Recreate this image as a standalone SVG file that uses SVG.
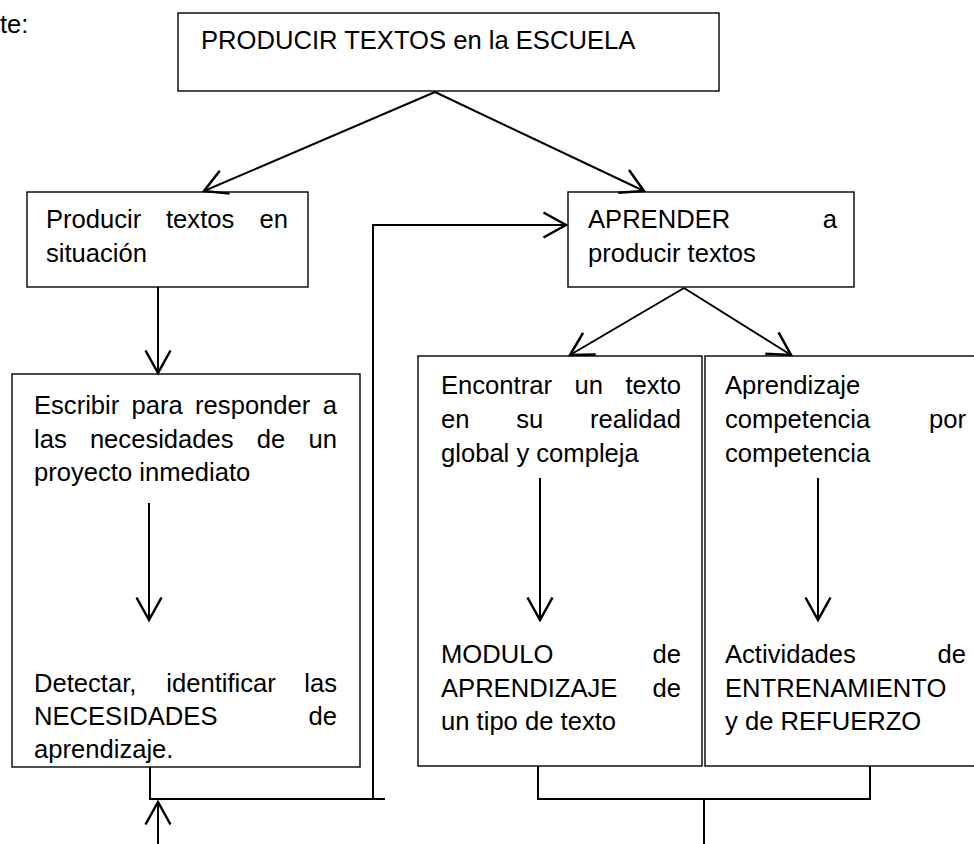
<svg xmlns="http://www.w3.org/2000/svg" width="974" height="844" viewBox="0 0 974 844">
  <defs>
    <marker id="open" markerUnits="userSpaceOnUse" markerWidth="30" markerHeight="30" viewBox="-20 -12 24 24" refX="0" refY="0" orient="auto" overflow="visible">
      <path d="M-18,-10 L0,0 L-18,10" fill="none" stroke="#000" stroke-width="2"/>
    </marker>
  </defs>
  <style>
    text { font-family: "Liberation Sans", Arial, sans-serif; font-size: 25.6px; fill: #000; }
    .e { text-anchor: end; }
    .box { fill: #fff; stroke: #000; stroke-width: 1.4; }
    .ln { fill: none; stroke: #000; stroke-width: 2; }
    .arr { fill: none; stroke: #000; stroke-width: 2; marker-end: url(#open); }
  </style>
  <rect width="974" height="844" fill="#fff"/>

  <text x="0" y="33">te:</text>

  <g id="producir-textos-escuela">
    <rect class="box" x="178" y="13" width="541" height="78"/>
    <text x="201" y="49">PRODUCIR TEXTOS en la ESCUELA</text>
  </g>

  <g id="producir-en-situacion">
    <rect class="box" x="27" y="192" width="281" height="95"/>
    <text x="46" y="228">Producir</text>
    <text x="166" y="228">textos</text>
    <text class="e" x="288" y="228">en</text>
    <text x="46" y="262">situación</text>
  </g>

  <g id="aprender-a-producir">
    <rect class="box" x="568" y="192" width="286" height="95"/>
    <text x="588" y="228">APRENDER</text>
    <text class="e" x="837" y="228">a</text>
    <text x="588" y="262">producir textos</text>
  </g>

  <g id="escribir-proyecto">
    <rect class="box" x="12" y="374" width="348" height="393"/>
    <text x="34" y="414">Escribir</text>
    <text x="131.6" y="414">para</text>
    <text x="195.1" y="414">responder</text>
    <text class="e" x="337" y="414">a</text>
    <text x="34" y="448">las</text>
    <text x="89.9" y="448">necesidades</text>
    <text x="256.8" y="448">de</text>
    <text class="e" x="337" y="448">un</text>
    <text x="34" y="481">proyecto inmediato</text>
    <line class="arr" x1="149" y1="503" x2="149" y2="620"/>
    <text x="34" y="692">Detectar,</text>
    <text x="166.3" y="692">identificar</text>
    <text class="e" x="337" y="692">las</text>
    <text x="34" y="725">NECESIDADES</text>
    <text class="e" x="337" y="725">de</text>
    <text x="34" y="758">aprendizaje.</text>
  </g>

  <g id="encontrar-texto">
    <rect class="box" x="418" y="356" width="284" height="410"/>
    <text x="441" y="394">Encontrar</text>
    <text x="574.5" y="394">un</text>
    <text class="e" x="681" y="394">texto</text>
    <text x="441" y="428">en</text>
    <text x="516.2" y="428">su</text>
    <text class="e" x="681" y="428">realidad</text>
    <text x="441" y="462">global y compleja</text>
    <line class="arr" x1="540" y1="478" x2="540" y2="620"/>
    <text x="441" y="663">MODULO</text>
    <text class="e" x="681" y="663">de</text>
    <text x="441" y="697">APRENDIZAJE</text>
    <text class="e" x="681" y="697">de</text>
    <text x="441" y="730">un tipo de texto</text>
  </g>

  <g id="aprendizaje-competencia">
    <rect class="box" x="705" y="356" width="290" height="410"/>
    <text x="725" y="394">Aprendizaje</text>
    <text x="725" y="428">competencia</text>
    <text class="e" x="966" y="428">por</text>
    <text x="725" y="462">competencia</text>
    <line class="arr" x1="818" y1="478" x2="818" y2="620"/>
    <text x="725" y="663">Actividades</text>
    <text class="e" x="966" y="663">de</text>
    <text x="725" y="697">ENTRENAMIENTO</text>
    <text x="725" y="730">y de REFUERZO</text>
  </g>

  <g id="connectors">
    <line class="arr" x1="435" y1="92" x2="204" y2="191"/>
    <line class="arr" x1="435" y1="92" x2="644" y2="191"/>
    <line class="arr" x1="158" y1="287" x2="158" y2="373"/>
    <line class="arr" x1="684" y1="288" x2="570" y2="355"/>
    <line class="arr" x1="684" y1="288" x2="791" y2="355"/>
    <polyline class="ln" points="150,767 150,799 385,799"/>
    <line class="ln" x1="373" y1="799" x2="373" y2="225"/>
    <line class="arr" x1="372" y1="225" x2="566" y2="225"/>
    <line class="arr" x1="158" y1="844" x2="158" y2="802"/>
    <polyline class="ln" points="538,766 538,799 870,799 870,766"/>
    <line class="ln" x1="704" y1="799" x2="704" y2="844"/>
  </g>
</svg>
